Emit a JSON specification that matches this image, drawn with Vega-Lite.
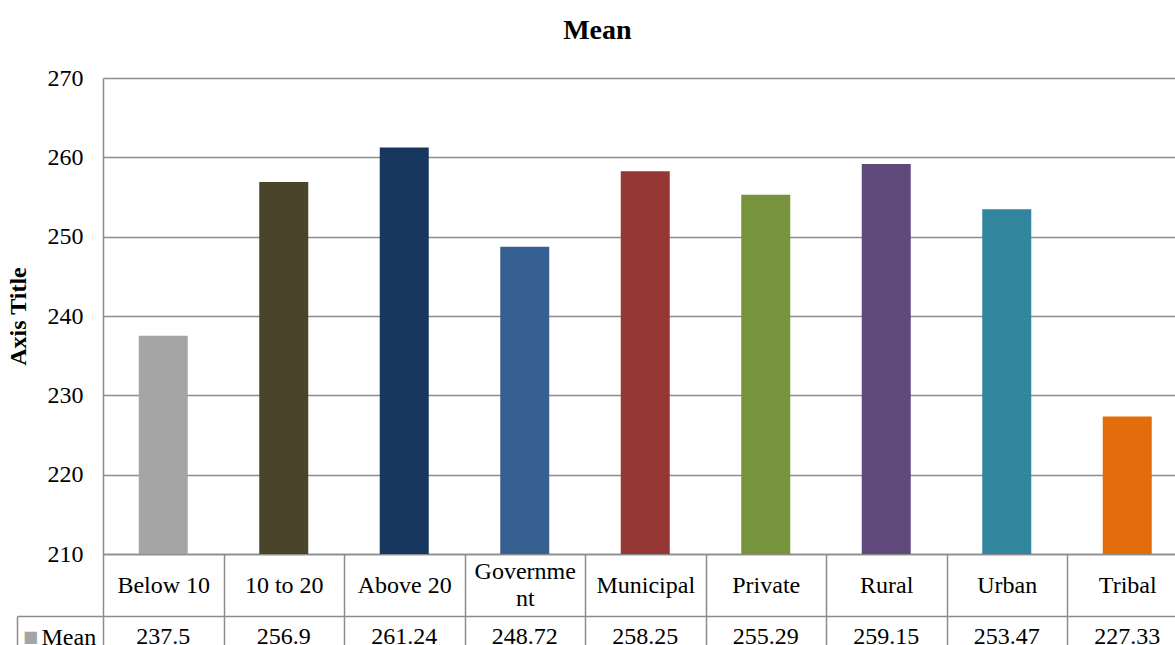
{
  "$schema": "https://vega.github.io/schema/vega-lite/v6.json",
  "background": "white",
  "padding": {"left": 6, "top": 17, "right": 0, "bottom": 0},
  "title": {"text": "Mean", "font": "Liberation Serif", "fontSize": 28, "fontWeight": "bold", "color": "black", "offset": 21, "anchor": "middle", "frame": "bounds"},
  "config": {"view": {"stroke": null}, "font": "Liberation Serif"},
  "bounds": "flush",
  "spacing": 62,
  "data": {"values": [
    {"category": "Below 10", "mean": 237.5, "series": "Mean"},
    {"category": "10 to 20", "mean": 256.9, "series": "Mean"},
    {"category": "Above 20", "mean": 261.24, "series": "Mean"},
    {"category": "Government", "mean": 248.72, "series": "Mean"},
    {"category": "Municipal", "mean": 258.25, "series": "Mean"},
    {"category": "Private", "mean": 255.29, "series": "Mean"},
    {"category": "Rural", "mean": 259.15, "series": "Mean"},
    {"category": "Urban", "mean": 253.47, "series": "Mean"},
    {"category": "Tribal", "mean": 227.33, "series": "Mean"}
  ]},
  "vconcat": [
    {
      "width": 1084.5,
      "height": 476,
      "mark": {"type": "bar", "width": 49},
      "encoding": {
        "x": {
          "field": "category", "type": "nominal", "sort": null,
          "scale": {"paddingInner": 0, "paddingOuter": 0},
          "axis": {
            "orient": "bottom", "title": null, "domain": true, "domainColor": "#8c8c8c", "domainWidth": 1.5,
            "ticks": true, "tickBand": "extent", "tickSize": 62, "tickColor": "#8c8c8c", "tickWidth": 1.5,
            "labelAngle": 0, "labelBaseline": "middle",
            "labelPadding": {"condition": {"test": "datum.value == 'Government'", "value": -44.5}, "value": -31},
            "labelFontSize": 24,
            "labelColor": "black", "labelFont": "Liberation Serif", "labelLineHeight": 27, "labelOverlap": false,
            "labelExpr": "datum.value == 'Government' ? ['Governme', 'nt'] : datum.value",
            "grid": false
          }
        },
        "y": {
          "field": "mean", "type": "quantitative",
          "scale": {"domain": [210, 270], "zero": false, "nice": false},
          "axis": {
            "values": [210, 220, 230, 240, 250, 260, 270],
            "title": "Axis Title", "titleFontSize": 24, "titleFontWeight": "bold", "titleColor": "black",
            "titleFont": "Liberation Serif", "titlePadding": 17,
            "domain": true, "domainColor": "#8c8c8c", "domainWidth": 1.5,
            "ticks": false, "grid": true, "gridColor": "#8c8c8c", "gridWidth": 1.5,
            "labelPadding": 20, "labelFontSize": 24, "labelColor": "black", "labelFont": "Liberation Serif"
          }
        },
        "y2": {"datum": 210},
        "color": {
          "field": "category", "type": "nominal", "sort": null,
          "scale": {
            "domain": ["Below 10", "10 to 20", "Above 20", "Government", "Municipal", "Private", "Rural", "Urban", "Tribal"],
            "range": ["#A5A5A5", "#4A452A", "#17375E", "#376092", "#953735", "#77933C", "#604A7B", "#31859C", "#E46C0A"]
          },
          "legend": null
        }
      }
    },
    {
      "width": 1084.5,
      "height": 42,
      "mark": {"type": "text", "fontSize": 24, "font": "Liberation Serif", "color": "black"},
      "encoding": {
        "x": {
          "field": "category", "type": "nominal", "sort": null,
          "scale": {"paddingInner": 0, "paddingOuter": 0},
          "axis": {
            "orient": "top", "title": null, "labels": false, "ticks": false,
            "domain": true, "domainColor": "#8c8c8c", "domainWidth": 1.5,
            "grid": true, "gridColor": "#8c8c8c", "gridWidth": 1.5, "tickBand": "extent"
          }
        },
        "y": {
          "field": "series", "type": "nominal",
          "scale": {"paddingInner": 0, "paddingOuter": 0},
          "axis": {
            "orient": "left", "offset": 86,
            "domain": true, "domainColor": "#8c8c8c", "domainWidth": 1.5,
            "ticks": true, "tickBand": "extent", "tickSize": -86, "tickColor": "#8c8c8c", "tickWidth": 1.5,
            "labelAlign": "left", "labelBaseline": "middle", "labelPadding": 62, "labelFontSize": 24,
            "labelColor": "black", "labelFont": "Liberation Serif",
            "title": "■", "titleAngle": 0, "titleColor": "#A5A5A5", "titleFont": "DejaVu Sans", "titleFontSize": 16,
            "titleFontWeight": "normal", "titleX": 13, "titleY": 20, "titleBaseline": "middle", "titleAlign": "center",
            "grid": false
          }
        },
        "text": {"field": "mean", "type": "nominal"}
      }
    }
  ]
}
